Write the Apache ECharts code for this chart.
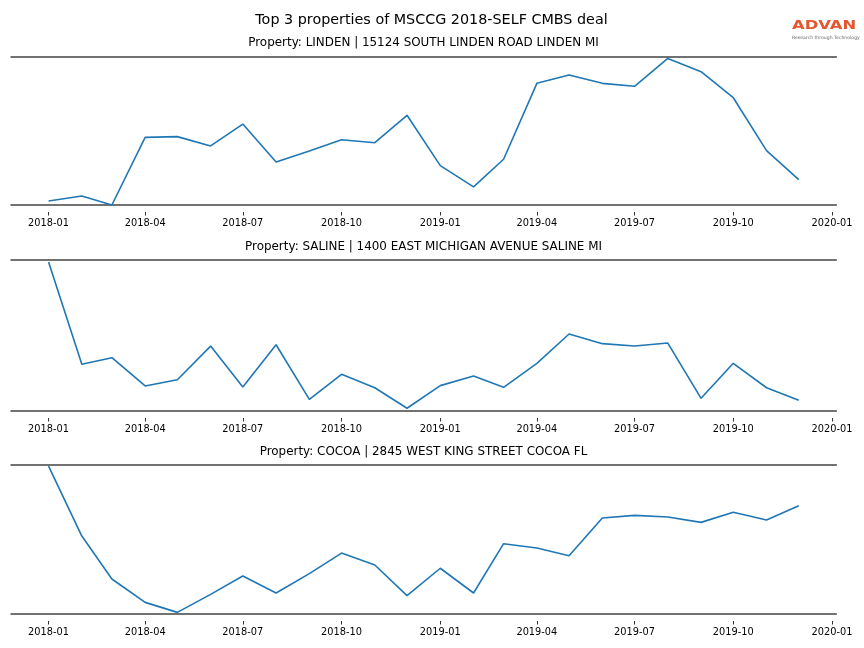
<!DOCTYPE html>
<html>
<head>
<meta charset="utf-8">
<script src="https://cdn.jsdelivr.net/npm/echarts@6/dist/echarts.min.js"></script>
<style>
html,body{margin:0;padding:0;background:#fff;}
#chart{width:864px;height:648px;}
</style>
</head>
<body>
<div id="chart"></div>
<script>
// ---- data ----
const months = ['2018-01-01','2018-02-01','2018-03-01','2018-04-01','2018-05-01','2018-06-01',
  '2018-07-01','2018-08-01','2018-09-01','2018-10-01','2018-11-01','2018-12-01',
  '2019-01-01','2019-02-01','2019-03-01','2019-04-01','2019-05-01','2019-06-01',
  '2019-07-01','2019-08-01','2019-09-01','2019-10-01','2019-11-01','2019-12-01'];
const tickDates = ['2018-01-01','2018-04-01','2018-07-01','2018-10-01','2019-01-01',
  '2019-04-01','2019-07-01','2019-10-01','2020-01-01'];
const mainTitle = 'Top 3 properties of MSCCG 2018-SELF CMBS deal';
const panelTitles = [
  'Property: LINDEN | 15124 SOUTH LINDEN ROAD LINDEN MI',
  'Property: SALINE | 1400 EAST MICHIGAN AVENUE SALINE MI',
  'Property: COCOA | 2845 WEST KING STREET COCOA FL'
];
const lindenValues = [2.7, 6.1, 0, 45.7, 46.2, 39.9, 54.7, 29.1, 36.5, 44.1, 42.1, 60.6,
  26.6, 12.2, 30.9, 82.2, 87.8, 82.2, 80.2, 99.0, 90.1, 72.5, 36.7, 17.1];
const salineValues = [98.7, 30.9, 35.3, 16.6, 20.7, 43.0, 15.9, 43.9, 7.7, 24.3, 15.4, 1.8,
  16.8, 23.2, 15.7, 31.6, 51.0, 44.6, 43.0, 45.0, 8.4, 31.6, 15.4, 7.1];
const cocoaValues = [99.3, 52.3, 23.5, 7.8, 1.1, 13.2, 25.5, 14.1, 27.1, 40.9, 32.9, 12.3,
  30.7, 14.1, 47.2, 44.3, 39.1, 64.4, 66.2, 65.1, 61.5, 68.3, 63.1, 72.7];
const allSeries = [lindenValues, salineValues, cocoaValues];

// ---- layout ----
const FONT = 'DejaVu Sans';
const gridTops = [57, 260, 465];
const gridHeights = [148, 151, 149];
const titleYs = [43.2, 246.5, 451.5];
const xMin = Date.parse('2017-11-27');
const xMax = Date.parse('2020-01-05');
const tickValues = tickDates.map(d => Date.parse(d));
const spineColor = '#444444';

function fmt(v) {
  const d = new Date(v);
  const m = d.getUTCMonth() + 1;
  return d.getUTCFullYear() + '-' + (m < 10 ? '0' + m : m);
}

const grids = [], xAxes = [], yAxes = [], series = [], graphics = [];
allSeries.forEach((vals, i) => {
  grids.push({left: 11, right: 27.7, top: gridTops[i], height: gridHeights[i], containLabel: false});
  // spine (bottom)
  xAxes.push({
    type: 'value', gridIndex: i, min: xMin, max: xMax, position: 'bottom',
    axisLine: {show: true, lineStyle: {color: spineColor, width: 1.5}},
    axisTick: {show: false}, axisLabel: {show: false}, splitLine: {show: false}
  });
  // ticks + labels
  xAxes.push({
    type: 'value', gridIndex: i, min: xMin, max: xMax, position: 'bottom', offset: 7,
    axisLine: {show: false},
    axisTick: {show: true, length: 3.5, customValues: tickValues, lineStyle: {color: '#333', width: 1}},
    axisLabel: {show: true, customValues: tickValues, formatter: fmt, margin: 6,
      fontFamily: FONT, fontSize: 9.8, color: '#000'},
    splitLine: {show: false}
  });
  // top spine
  xAxes.push({
    type: 'value', gridIndex: i, min: xMin, max: xMax, position: 'top',
    axisLine: {show: true, lineStyle: {color: spineColor, width: 1.5}},
    axisTick: {show: false}, axisLabel: {show: false}, splitLine: {show: false}
  });
  yAxes.push({type: 'value', gridIndex: i, min: 0, max: 100, show: false});
  series.push({
    type: 'line', xAxisIndex: i * 3, yAxisIndex: i, symbol: 'none', silent: true,
    lineStyle: {color: '#1f77b4', width: 1.6},
    data: months.map((m, k) => [Date.parse(m), vals[k]])
  });
  graphics.push({
    type: 'text', x: 423.5, y: titleYs[i],
    style: {text: panelTitles[i], font: '11.93px "' + FONT + '"', fill: '#000', align: 'center', verticalAlign: 'middle'}
  });
});

graphics.push({
  type: 'text', x: 431.5, y: 20.5,
  style: {text: mainTitle, font: '14.34px "' + FONT + '"', fill: '#000', align: 'center', verticalAlign: 'middle'}
});
// logo
graphics.push({
  type: 'text', x: 792, y: 26, scaleX: 1.28,
  style: {text: 'ADVAN', font: 'bold 12.8px "' + FONT + '"', fill: '#e4572e', align: 'left', verticalAlign: 'middle'}
});
graphics.push({
  type: 'text', x: 792, y: 38,
  style: {text: 'Research through Technology', font: '4.6px "' + FONT + '"', fill: '#666', align: 'left', verticalAlign: 'middle'}
});

const chart = echarts.init(document.getElementById('chart'), null, {renderer: 'canvas'});
chart.setOption({
  animation: false,
  backgroundColor: '#fff',
  grid: grids,
  xAxis: xAxes,
  yAxis: yAxes,
  series: series,
  graphic: graphics
});
</script>
</body>
</html>
